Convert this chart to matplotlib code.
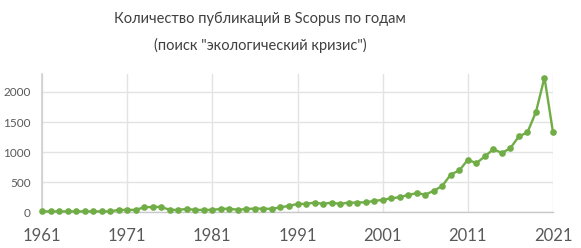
import matplotlib.pyplot as plt

# publications per year
years = list(range(1961, 2022))
counts = [15, 15, 15, 15, 15, 15, 15, 15, 15, 40,
          40, 40, 83, 89, 89, 40, 40, 56, 40, 40,
          40, 56, 61, 40, 56, 61, 61, 56, 83, 106,
          139, 139, 161, 139, 161, 139, 161, 161, 167, 189,
          206, 233, 250, 289, 317, 295, 356, 439, 628, 695,
          873, 817, 928, 1050, 984, 1067, 1262, 1328, 1667, 2240,
          1328]
xticks = [1961, 1971, 1981, 1991, 2001, 2011, 2021]
yticks = [0, 500, 1000, 1500, 2000]

plt.rcParams['font.family'] = ['Lato', 'DejaVu Sans']

fig = plt.figure(figsize=(5.81, 2.48), dpi=100)
ax = fig.add_axes([0.0723, 0.144, 0.8795, 0.558])

green = '#70ad47'
ax.plot(years, counts, color=green, lw=1.7, marker='o', ms=4.8,
        markeredgewidth=0, zorder=3, clip_on=False)

ax.set_xlim(1961, 2021)
ax.set_ylim(0, 2300)
ax.set_xticks(xticks)
ax.set_yticks(yticks)
ax.grid(True, color='#e3e3e3', lw=1.0, zorder=0)

for s in ['top', 'right']:
    ax.spines[s].set_visible(False)
ax.spines['left'].set_color('#d0d0d0')
ax.spines['bottom'].set_color('#c8c8c8')
ax.spines['left'].set_linewidth(1.2)
ax.spines['bottom'].set_linewidth(1.0)

ax.tick_params(axis='both', length=0, colors='#595959')
ax.tick_params(axis='x', labelsize=12, pad=11)
ax.tick_params(axis='y', labelsize=8.5, pad=8)

fig.text(0.448, 0.925, 'Количество публикаций в Scopus по годам',
         ha='center', va='center', fontsize=10.5, color='#404040')
fig.text(0.448, 0.818, '(поиск "экологический кризис")',
         ha='center', va='center', fontsize=10.5, color='#404040')

fig.savefig('out.png', dpi=100)
